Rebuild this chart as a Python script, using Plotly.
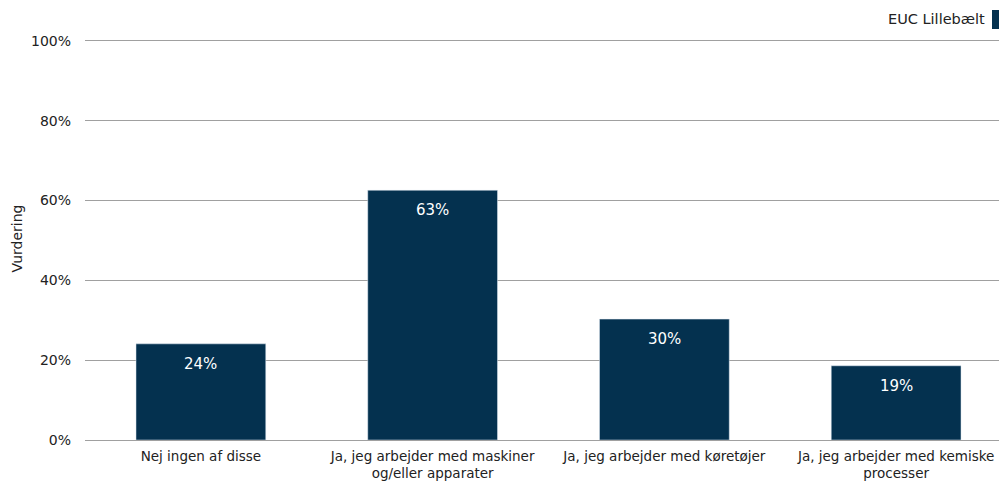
import plotly.graph_objects as go

categories = [
    "Nej ingen af disse",
    "Ja, jeg arbejder med maskiner<br>og/eller apparater",
    "Ja, jeg arbejder med køretøjer",
    "Ja, jeg arbejder med kemiske<br>processer",
]
values = [24.1, 62.6, 30.3, 18.6]
series_name = "EUC Lillebælt"
y_ticks = [0, 20, 40, 60, 80, 100]
y_tick_text = ["0%", "20%", "40%", "60%", "80%", "100%"]

BAR = "#04314F"
FONT = "DejaVu Sans"
FS = 13.5

fig = go.Figure()
fig.add_trace(go.Bar(
    x=categories, y=values, marker_color=BAR, name=series_name,
    showlegend=False, hoverinfo="skip",
))
for c, v in zip(categories, values):
    fig.add_annotation(x=c, y=v, text=f"{v:.0f}%", showarrow=False,
                       yanchor="top", yshift=-9,
                       font=dict(family=FONT, size=15, color="white"))

# legend (text then square, top right)
fig.add_annotation(xref="paper", yref="paper", x=1.0, xshift=-25, y=1.0, yshift=18,
                   xanchor="right", yanchor="middle", text=series_name,
                   showarrow=False, font=dict(family=FONT, size=14.5, color="#222"))
fig.add_shape(type="rect", xref="paper", yref="paper",
              xsizemode="pixel", xanchor=1.0, x0=-20, x1=-5,
              ysizemode="pixel", yanchor=1.0, y0=8, y1=27,
              line_width=0, fillcolor=BAR)

# page has an 8px body margin; plot area runs slightly past the window edge
fig.update_layout(
    width=1004, height=474,
    margin=dict(l=77, r=0, t=29, b=42),
    paper_bgcolor="white", plot_bgcolor="white",
    bargap=0.44,
    font=dict(family=FONT, size=FS, color="#222"),
    xaxis=dict(showgrid=False, ticks="", showline=False, automargin=False,
               ticklabelstandoff=6, tickfont=dict(size=FS)),
    yaxis=dict(range=[0, 101], tickmode="array", tickvals=y_ticks,
               ticktext=y_tick_text, automargin=False,
               showgrid=True, gridcolor="#A0A0A0", gridwidth=1,
               zeroline=True, zerolinecolor="#A0A0A0", zerolinewidth=1,
               ticklabelstandoff=13, tickfont=dict(size=14),
               title=dict(text="Vurdering", standoff=5, font=dict(size=14))),
)
fig.write_html("out.html")
